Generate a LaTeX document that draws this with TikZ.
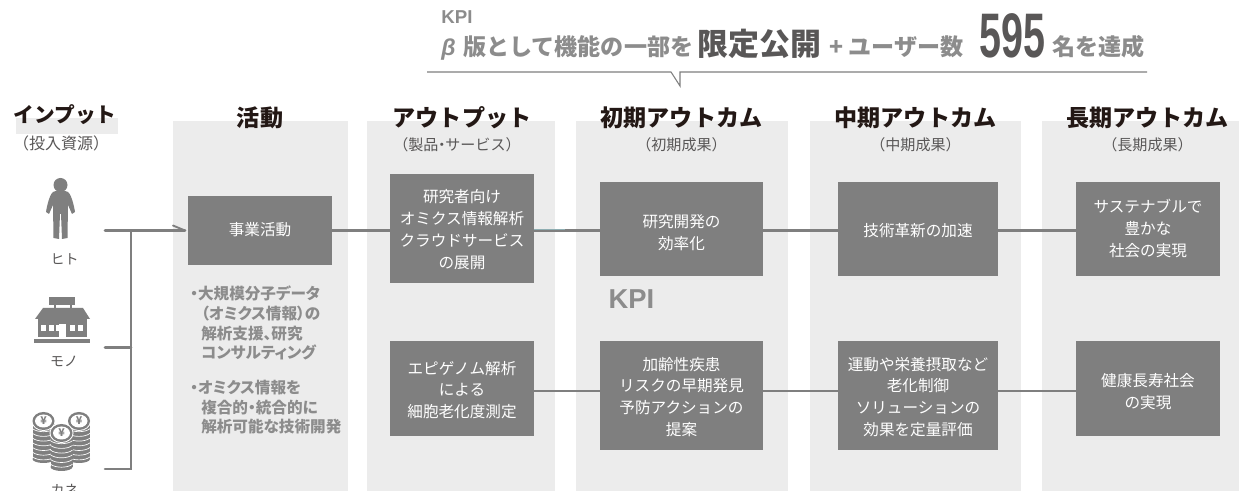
\documentclass[tikz,border=0pt]{standalone}
\usepackage{fontspec}
\setmainfont{Noto Sans CJK JP}
\newcommand{\jpb}{\bfseries}
\newcommand{\nar}[1]{\makebox[0.45em][c]{#1}}
\newfontfamily\lat{Liberation Sans}
\newfontfamily\bignum{Liberation Sans}
\definecolor{pane}{HTML}{ECECEC}
\definecolor{boxg}{HTML}{7F7F7F}
\definecolor{txtg}{HTML}{8C8C8C}
\definecolor{dark}{HTML}{595757}
\definecolor{head}{HTML}{231815}
\definecolor{tealg}{HTML}{8FAEB2}
\newlength{\pxu}
\setlength{\pxu}{0.75pt}
\tikzset{
 bx/.style={fill=boxg,draw=none,text=white,font=\fontsize{11.7pt}{16.4pt}\selectfont,inner sep=0pt,anchor=center},
 hd/.style={text=head,font=\jpb\fontsize{17.3pt}{18pt}\selectfont,inner sep=0pt},
 sb/.style={text=dark,font=\fontsize{11.3pt}{13pt}\selectfont,inner sep=0pt},
 conn/.style={draw=boxg,line width=1.9pt},
 ic/.style={fill=boxg,draw=none},
 lab/.style={text=dark,font=\fontsize{10.5pt}{12pt}\selectfont,inner sep=0pt},
 note/.style={text=txtg,font=\jpb\fontsize{11.7pt}{14.7pt}\selectfont\addfontfeature{RawFeature=+palt},align=left,inner sep=0pt,anchor=north west},
 kp/.style={text=txtg,font=\jpb\fontsize{17.3pt}{18pt}\selectfont,inner sep=0pt,anchor=base west},
}
% name, x, y, width, height, text shift in px, text
\newcommand{\bxn}[7]{\node[bx,minimum width=#4*0.75pt,minimum height=#5*0.75pt] (#1) at (#2,#3) {\raisebox{-#6\pxu}[\height][\depth]{\begin{tabular}{@{}c@{}}#7\end{tabular}}};}
\begin{document}
\begin{tikzpicture}[x=0.75pt,y=-0.75pt]
\useasboundingbox (0,0) rectangle (1239,491);
\fill[white] (0,0) rectangle (1239,491);
% panes
\fill[pane] (173,121) rectangle (348,491);
\fill[pane] (367,121) rectangle (555,491);
\fill[pane] (576,121) rectangle (788,491);
\fill[pane] (810,121) rectangle (1021,491);
\fill[pane] (1042,121) rectangle (1239,491);
\fill[pane] (16,118) rectangle (118,134);
% boxes
\coordinate (hitoEnd) at (105,230.5);
\coordinate (monoEnd) at (105,347.5);
\coordinate (kaneEnd) at (105,469);
\coordinate (jointTop) at (131,230.5);
\coordinate (jointMid) at (131,347.5);
\coordinate (jointBot) at (131,469);
\coordinate (arrTip) at (185,230.5);
\coordinate (barb) at (173,225.5);
\coordinate (tealEnd) at (565,229.6);
\bxn{act}{260}{230.5}{144}{69}{1}{事業活動}
\bxn{o1}{462}{228.5}{144}{109}{2.5}{研究者向け\\オミクス情報解析\\クラウドサービス\\の展開}
\bxn{a1}{681.5}{229}{163}{94}{5}{研究開発の\\効率化}
\bxn{m1}{918}{229}{160}{94}{3}{技術革新の加速}
\bxn{l1}{1148}{229}{144}{94}{1}{サステナブルで\\豊かな\\社会の実現}
\bxn{o2}{462}{388.5}{144}{95}{3}{エピゲノム解析\\による\\細胞老化度測定}
\bxn{a2}{681.5}{395.5}{163}{109}{3}{加齢性疾患\\リスクの早期発見\\予防アクションの\\提案}
\bxn{m2}{918}{395.5}{160}{109}{3}{運動や栄養摂取など\\老化制御\\ソリューションの\\効果を定量評価}
\bxn{l2}{1148}{388.5}{144}{95}{5}{健康長寿社会\\の実現}
% connectors
\draw[conn] (act.east) -- (o1.west |- act.east);
\draw[conn] (o1.east |- act.east) -- (a1.west |- act.east);
\draw[conn] (a1.east |- act.east) -- (m1.west |- act.east);
\draw[conn] (m1.east |- act.east) -- (l1.west |- act.east);
\draw[tealg,line width=0.8pt] (o1.east |- tealEnd) -- (tealEnd);
\draw[conn] (o2.east |- 0,391) -- (a2.west |- 0,391);
\draw[conn] (a2.east |- 0,391) -- (m2.west |- 0,391);
\draw[conn] (m2.east |- 0,391) -- (l2.west |- 0,391);
\draw[conn,line cap=round] (hitoEnd) -- (arrTip);
\draw[conn,line cap=round] (monoEnd) -- (jointMid);
\draw[conn,line cap=round] (kaneEnd) -- (jointBot) -- (jointTop);
\draw[conn,line width=1.4pt,line cap=round] (barb) -- (arrTip);
% headings
\node[hd,font=\jpb\fontsize{15.5pt}{18pt}\selectfont] (hInput) at (65,115) {インプット};
\node[sb,font=\fontsize{12pt}{13pt}\selectfont] (sInput) at (61,143) {（投入資源）};
\node[hd] (hAct) at (260,118) {活動};
\node[hd] (hOut) at (462,118) {アウトプット};
\node[sb] (sOut) at (457,145) {（製品\nar{・}サービス）};
\node[hd] (hA) at (681.5,118) {初期アウトカム};
\node[sb] (sA) at (681.5,145) {（初期成果）};
\node[hd] (hM) at (915.5,118) {中期アウトカム};
\node[sb] (sM) at (915.5,145) {（中期成果）};
\node[hd] (hL) at (1147.5,118) {長期アウトカム};
\node[sb] (sL) at (1147.5,145) {（長期成果）};
% notes
\node[note] (n1) at (190,286) {・大規模分子データ\\\hspace*{8.25pt}（オミクス情報）の\\\hspace*{8.25pt}解析支援、研究\\\hspace*{8.25pt}コンサルティング};
\node[note] (n2) at (190,380) {・オミクス情報を\\\hspace*{8.25pt}複合的・統合的に\\\hspace*{8.25pt}解析可能な技術開発};
\node[text=txtg,font=\lat\bfseries\fontsize{20.5pt}{22pt}\selectfont,inner sep=0pt] (kpi2) at (631.5,299) {KPI};
% KPI top
\node[text=txtg,font=\lat\bfseries\fontsize{14pt}{16pt}\selectfont,inner sep=0pt] (kpi1) at (457,17.5) {KPI};
\node[kp] (t1) at (441,56) {{\lat\itshape\bfseries β}\,\,版として機能の一部を};
\node[text=dark,font=\jpb\fontsize{23.2pt}{24pt}\selectfont,inner sep=0pt,anchor=base west] (t2) at (697,56) {限定公開};
\node[kp] (t3) at (829,56) {+ ユーザー数};
\node[text=dark,font=\bignum\bfseries\fontsize{40pt}{42pt}\selectfont,inner sep=0pt,anchor=base,xscale=0.74,yscale=1.18] (t4) at (1012.5,57.5) {595};
\node[kp] (t5) at (1052,56) {名を達成};
\draw[draw=boxg,line width=0.8pt] (427,72) -- (671,72) -- (680,86) -- (680,72) -- (1147,72);
% person
\fill[ic] (60.5,185) circle (7);
\fill[ic] (53,192) .. controls (56,190) and (65,190) .. (68,192) .. controls (71,194) and (74,205) .. (75,212) -- (72,214) -- (68,205) -- (67.5,238) -- (62,239) -- (61,214) -- (60,214) -- (59,239) -- (53.5,238) -- (53,205) -- (49,214) -- (46,212) .. controls (47,205) and (50,194) .. (53,192) -- cycle;
% shop
\fill[ic] (49,297) rectangle (75,305);
\fill[ic] (54,305) rectangle (56,309);
\fill[ic] (70,305) rectangle (72,309);
\fill[ic] (43,308) -- (83,308) -- (90,319) -- (35,319) -- cycle;
\fill[ic] (38,319) rectangle (87,337);
\fill[ic] (34,339) rectangle (90,343);
\fill[white] (41,325) rectangle (46,331);
\fill[white] (49,325) rectangle (54,331);
\fill[white] (56,325) rectangle (59,331);
\fill[white] (70,325) rectangle (75,331);
\fill[white] (78,325) rectangle (83,331);
\fill[white] (59,324) rectangle (66,337);
% coins
\foreach \cx/\ty/\by in {43.5/421/459, 79/421/459, 61.5/433/467}{
  \fill[ic] (\cx-11,\ty) rectangle (\cx+11,\by);
  \fill[ic] (\cx,\by) ellipse (11 and 4);
  \foreach \k in {1,...,7}{
    \draw[white,line width=0.5pt] (\cx-11,\ty+3+\k*4.7) .. controls (\cx-6,\ty+7+\k*4.7) and (\cx+6,\ty+7+\k*4.7) .. (\cx+11,\ty+3+\k*4.7);
  }
  \fill[white] (\cx,\ty) ellipse (12 and 10);
  \fill[ic] (\cx,\ty) ellipse (11 and 9);
  \fill[white] (\cx,\ty) ellipse (8.5 and 6.5);
  \node[text=boxg,font=\jpb\fontsize{8pt}{8pt}\selectfont,inner sep=0pt] at (\cx,\ty) {¥};
}
% labels
\node[lab] (lHito) at (64.5,259) {ヒト};
\node[lab] (lMono) at (64,361) {モノ};
\node[lab] (lKane) at (64.5,490) {カネ};
\end{tikzpicture}
\end{document}
